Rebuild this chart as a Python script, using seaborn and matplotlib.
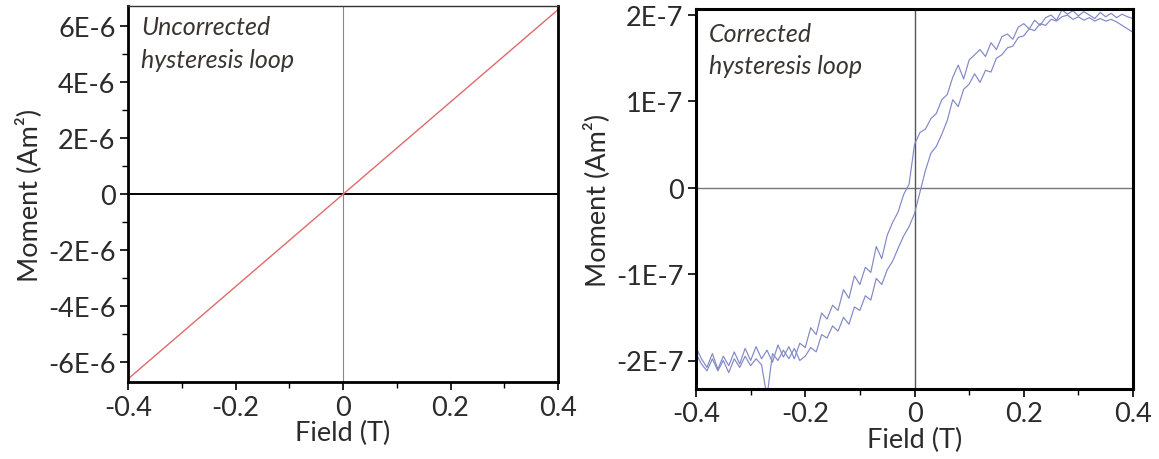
import numpy as np
import pandas as pd
import matplotlib
matplotlib.use("Agg")
import matplotlib.pyplot as plt
import seaborn as sns

# ---------------- data ----------------
# Uncorrected loop (linear, paramagnetic-dominated)
unc_field = [-0.4, -0.2, 0.0, 0.2, 0.4]
unc_moment = [-6.6e-6, -3.3e-6, 0.0, 3.3e-6, 6.6e-6]

# Corrected loop: field sweep positions (T)
cor_field = [round(-0.40 + 0.01 * i, 2) for i in range(81)]
# descending branch (+0.4 -> -0.4), values in units of 1E-7 Am^2, listed from -0.4 to 0.4
desc_moment_e7 = [
    -1.85, -1.98, -2.08, -1.92, -2.10, -1.95, -2.06, -1.90, -2.04, -1.86,
    -2.00, -1.84, -1.98, -1.88, -2.02, -1.82, -1.96, -1.84, -1.98, -1.80,
    -1.85, -1.62, -1.70, -1.45, -1.52, -1.36, -1.42, -1.18, -1.28, -1.02,
    -1.12, -0.92, -0.98, -0.68, -0.82, -0.55, -0.40, -0.28, -0.08, 0.04,
    0.50, 0.64, 0.68, 0.80, 0.86, 1.02, 1.08, 1.28, 1.42, 1.26,
    1.48, 1.54, 1.60, 1.52, 1.68, 1.60, 1.75, 1.78, 1.72, 1.86,
    1.90, 1.84, 1.94, 1.88, 1.97, 2.00, 1.94, 2.06, 2.01, 2.05,
    1.99, 2.04, 2.00, 1.96, 2.03, 1.98, 2.02, 1.97, 2.01, 1.98,
    1.96,
]
# ascending branch (-0.4 -> +0.4)
asc_moment_e7 = [
    -1.92, -2.04, -2.12, -1.98, -2.12, -2.00, -2.14, -1.98, -2.08, -1.95,
    -2.06, -1.98, -2.05, -2.42, -1.92, -2.00, -1.88, -1.98, -1.86, -2.00,
    -1.95, -1.85, -1.90, -1.70, -1.74, -1.60, -1.66, -1.50, -1.58, -1.38,
    -1.42, -1.25, -1.30, -1.05, -1.12, -0.95, -0.85, -0.70, -0.56, -0.45,
    -0.30, -0.05, 0.20, 0.40, 0.48, 0.62, 0.78, 1.02, 0.94, 1.14,
    1.20, 1.32, 1.22, 1.36, 1.34, 1.50, 1.54, 1.62, 1.64, 1.74,
    1.76, 1.84, 1.82, 1.90, 1.88, 1.95, 1.93, 1.98, 2.00, 1.95,
    1.98, 1.94, 1.97, 1.93, 1.96, 1.93, 1.95, 1.92, 1.88, 1.84,
    1.80,
]

left_yticks = [-6e-6, -4e-6, -2e-6, 0, 2e-6, 4e-6, 6e-6]
left_yticklabels = ["-6E-6", "-4E-6", "-2E-6", "0", "2E-6", "4E-6", "6E-6"]
right_yticks = [-2e-7, -1e-7, 0, 1e-7, 2e-7]
right_yticklabels = ["-2E-7", "-1E-7", "0", "1E-7", "2E-7"]
xticks = [-0.4, -0.2, 0.0, 0.2, 0.4]
xticklabels = ["-0.4", "-0.2", "0", "0.2", "0.4"]

# ---------------- style ----------------
sns.set_style("white")
plt.rcParams["font.family"] = ["Lato", "DejaVu Sans"]
FS = 19.5
TXT = "#2b2b2b"

fig = plt.figure(figsize=(11.59, 4.60), dpi=100)
axL = fig.add_axes([128 / 1159, (460 - 383.3) / 460, 430 / 1159, 376 / 460])
axR = fig.add_axes([696 / 1159, (460 - 390) / 460, 437 / 1159, 380 / 460])

# ---------- left panel ----------
dfL = pd.DataFrame({"field": unc_field, "moment": unc_moment})
sns.lineplot(data=dfL, x="field", y="moment", ax=axL, color="#e06a6a", lw=1.0, sort=False)
axL.axhline(0, color="black", lw=1.4, zorder=1)
axL.axvline(0, color="#888888", lw=0.8, zorder=1)
axL.set_xlim(-0.4, 0.4)
axL.set_ylim(-6.72e-6, 6.72e-6)
axL.set_yticks(left_yticks)
axL.set_yticklabels(left_yticklabels)
axL.set_yticks(np.arange(-5e-6, 6e-6, 2e-6), minor=True)
axL.set_xticks(xticks)
axL.set_xticklabels(xticklabels)
axL.set_xticks([-0.3, -0.1, 0.1, 0.3], minor=True)
for s in ["left", "bottom", "right"]:
    axL.spines[s].set_linewidth(2.0)
    axL.spines[s].set_color("black")
axL.spines["top"].set_linewidth(1.0)
axL.spines["top"].set_color("#333333")
axL.text(0.03, 0.978, "Uncorrected\nhysteresis loop", transform=axL.transAxes,
         ha="left", va="top", fontsize=18, style="italic", color="#3a3530",
         linespacing=1.55)

# ---------- right panel ----------
n = len(cor_field)
dfR = pd.DataFrame({
    "field": cor_field[::-1] + cor_field,
    "moment": [v * 1e-7 for v in desc_moment_e7[::-1]] + [v * 1e-7 for v in asc_moment_e7],
    "branch": ["desc"] * n + ["asc"] * n,
})
sns.lineplot(data=dfR, x="field", y="moment", units="branch", estimator=None,
             ax=axR, color="#8088c8", lw=0.85, sort=False)
axR.axhline(0, color="#777777", lw=1.0, zorder=1)
axR.axvline(0, color="#555555", lw=1.0, zorder=1)
axR.set_xlim(-0.4, 0.4)
axR.set_ylim(-2.33e-7, 2.07e-7)
axR.set_yticks(right_yticks)
axR.set_yticklabels(right_yticklabels)
axR.set_xticks(xticks)
axR.set_xticklabels(xticklabels)
axR.set_xticks([-0.3, -0.1, 0.1, 0.3], minor=True)
for s in ["left", "bottom", "right", "top"]:
    axR.spines[s].set_linewidth(2.2)
    axR.spines[s].set_color("black")
axR.text(0.03, 0.965, "Corrected\nhysteresis loop", transform=axR.transAxes,
         ha="left", va="top", fontsize=18, style="italic", color="#3a3530",
         linespacing=1.45)

for ax in (axL, axR):
    ax.set_xlabel("Field (T)", fontsize=FS, color=TXT, labelpad=0)
    ax.set_ylabel("Moment (Am²)", fontsize=FS, color=TXT, labelpad=4)
    ax.tick_params(axis="both", which="major", direction="out", length=6, width=1.2,
                   labelsize=FS, colors="black", labelcolor=TXT, pad=3,
                   left=True, bottom=True)
    ax.tick_params(axis="both", which="minor", direction="out", length=4, width=1.0,
                   colors="black", left=True, bottom=True)

fig.savefig("out.png", dpi=100, facecolor="white")
